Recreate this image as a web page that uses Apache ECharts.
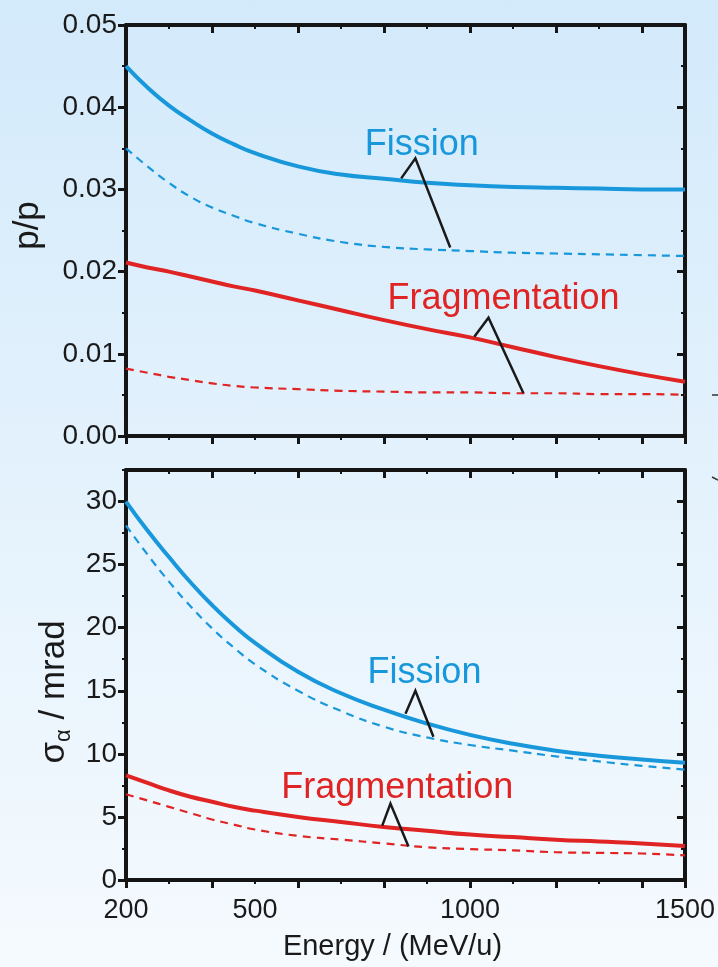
<!DOCTYPE html>
<html lang="en">
<head>
<meta charset="utf-8" />
<title>Momentum and angular spread vs energy</title>
<script src="https://cdn.jsdelivr.net/npm/echarts@6.0.0/dist/echarts.min.js"></script>
<style>
	html, body { margin: 0; padding: 0; }
	#main {
		width: 718px;
		height: 967px;
		background: linear-gradient(#d3eafb, #f5fafe);
	}
</style>
</head>
<body>
<div id="main"></div>
<script>
	var energy = [200, 250, 300, 350, 400, 450, 500, 600, 700, 800, 900, 1000, 1100, 1200, 1300, 1400, 1500];

	// upper panel: p/p
	var dpFission      = [0.0450, 0.0424, 0.0402, 0.0384, 0.0368, 0.0355, 0.0344, 0.0328, 0.0318, 0.0313, 0.0308, 0.0305, 0.0303, 0.0302, 0.0301, 0.0300, 0.0300];
	var dpFissionDash  = [0.0350, 0.0328, 0.0308, 0.0291, 0.0278, 0.0268, 0.0259, 0.0246, 0.0236, 0.0230, 0.0227, 0.0225, 0.0223, 0.0222, 0.0221, 0.0220, 0.0219];
	var dpFrag         = [0.0211, 0.0205, 0.0200, 0.0194, 0.0188, 0.0182, 0.0177, 0.0165, 0.0153, 0.0141, 0.0130, 0.0120, 0.0108, 0.0096, 0.0085, 0.0075, 0.0066];
	var dpFragDash     = [0.0082, 0.0077, 0.0072, 0.0068, 0.0064, 0.0061, 0.0059, 0.0057, 0.0055, 0.0054, 0.0053, 0.0053, 0.0052, 0.0052, 0.0051, 0.0051, 0.0050];

	// lower panel: sigma_alpha / mrad
	var angFission     = [30.0, 27.7, 25.6, 23.6, 21.8, 20.2, 18.8, 16.5, 14.8, 13.5, 12.4, 11.5, 10.8, 10.25, 9.85, 9.55, 9.3];
	var angFissionDash = [28.1, 25.8, 23.65, 21.7, 19.95, 18.45, 17.1, 15.0, 13.4, 12.15, 11.3, 10.7, 10.25, 9.8, 9.4, 9.05, 8.75];
	var angFrag        = [8.3, 7.7, 7.1, 6.6, 6.2, 5.8, 5.5, 5.0, 4.6, 4.2, 3.9, 3.6, 3.4, 3.2, 3.05, 2.9, 2.7];
	var angFragDash    = [6.8, 6.3, 5.8, 5.3, 4.8, 4.4, 4.0, 3.5, 3.2, 2.9, 2.6, 2.45, 2.35, 2.2, 2.15, 2.1, 1.95];

	var xLabelValues = [200, 500, 1000, 1500];

	// callout labels, in data coordinates of the panel of the given series
	var callouts = [
		{ series: 0, text: 'Fission', label: [888, 0.03543], apex: [873, 0.03378], ends: [[840, 0.03134], [954, 0.02293]] },
		{ series: 2, text: 'Fragmentation', label: [1078, 0.01665], apex: [1043, 0.01439], ends: [[1010, 0.01207], [1124, 0.00524]] },
		{ series: 4, text: 'Fission', label: [894, 16.39], apex: [873, 15.0], ends: [[850, 13.18], [915, 11.36]] },
		{ series: 6, text: 'Fragmentation', label: [831, 7.28], apex: [815, 6.06], ends: [[796, 4.31], [857, 2.65]] }
	];

	var AXIS = '#151515';
	var FONT = '"Liberation Sans", Arial, sans-serif';
	var BLUE = '#1898db';
	var RED = '#e02323';

	function pairs(ys) {
		return energy.map(function (e, i) { return [e, ys[i]]; });
	}

	function xAxesFor(grid, withLabels) {
		function ax(position, interval, isMajor) {
			return {
				gridIndex: grid, type: 'value', min: 200, max: 1500, interval: interval,
				position: position,
				splitLine: { show: false },
				axisLine: { show: isMajor, onZero: false, lineStyle: { color: AXIS, width: 4 } },
				axisTick: { inside: position === 'top', length: isMajor ? 8 : 4, lineStyle: { color: AXIS, width: isMajor ? 3 : 2 } },
				axisLabel: { show: false }
			};
		}
		var minorBottom = ax('bottom', 100, false);
		if (withLabels) {
			minorBottom.axisLabel = {
				show: true, showMinLabel: true, showMaxLabel: true,
				color: '#1a1a1a', fontSize: 27, fontFamily: FONT, margin: 17,
				formatter: function (v) { return xLabelValues.indexOf(v) >= 0 ? String(v) : ''; }
			};
			minorBottom.name = 'Energy / (MeV/u)';
			minorBottom.nameLocation = 'middle';
			minorBottom.nameGap = 52;
			minorBottom.nameTextStyle = { color: '#1a1a1a', fontSize: 29, fontFamily: FONT, padding: [0, 26, 0, 0] };
		}
		return [ax('bottom', 200, true), minorBottom, ax('top', 200, true), ax('top', 100, false)];
	}

	function yAxesFor(grid, max, interval, minor, showMax, fmt, name, nameGap, nameStyle) {
		function ax(position, step, isMajor) {
			return {
				gridIndex: grid, type: 'value', min: 0, max: max, interval: step,
				position: position,
				splitLine: { show: false },
				axisLine: { show: isMajor, onZero: false, lineStyle: { color: AXIS, width: 4 } },
				axisTick: { inside: position === 'right', length: isMajor ? 8 : 4, lineStyle: { color: AXIS, width: isMajor ? 3 : 2 } },
				axisLabel: { show: false }
			};
		}
		var main = ax('left', interval, true);
		main.axisLabel = {
			show: true, showMinLabel: true, showMaxLabel: showMax,
			color: '#1a1a1a', fontSize: 28, fontFamily: FONT, margin: 9,
			formatter: fmt
		};
		main.name = name;
		main.nameLocation = 'middle';
		main.nameGap = nameGap;
		main.nameTextStyle = nameStyle;
		return [main, ax('left', minor, false), ax('right', interval, true), ax('right', minor, false)];
	}

	function line(data, xi, yi, color, dashed) {
		return {
			type: 'line', xAxisIndex: xi, yAxisIndex: yi, data: pairs(data),
			smooth: true, symbol: 'none', silent: true,
			lineStyle: dashed ? { color: color, width: 2.2, type: [8, 6] } : { color: color, width: 4 }
		};
	}

	var chart = echarts.init(document.getElementById('main'), null, { renderer: 'canvas' });

	var option = {
		animation: false,
		backgroundColor: 'transparent',
		grid: [
			{ left: 126, right: 33, top: 25, height: 411 },
			{ left: 126, right: 33, top: 470, height: 410 }
		],
		xAxis: xAxesFor(0, false).concat(xAxesFor(1, true)),
		yAxis: yAxesFor(0, 0.05, 0.01, 0.005, true,
				function (v) { return v.toFixed(2); },
				'p/p', 80,
				{ color: '#1a1a1a', fontSize: 35, fontFamily: FONT, padding: [0, 0, 0, 10] })
			.concat(yAxesFor(1, 32.5, 5, 2.5, false,
				function (v) { return v % 5 === 0 ? String(v) : ''; },
				'{m|σ}{s|α}{m| / mrad}', 46,
				{
					color: '#1a1a1a', fontFamily: FONT, padding: [0, 34, 0, 0],
					rich: {
						m: { fontSize: 35, color: '#1a1a1a', fontFamily: FONT },
						s: { fontSize: 22, color: '#1a1a1a', fontFamily: FONT, padding: [20, 0, 0, 0] }
					}
				})),
		series: [
			line(dpFission, 0, 0, BLUE, false),
			line(dpFissionDash, 0, 0, BLUE, true),
			line(dpFrag, 0, 0, RED, false),
			line(dpFragDash, 0, 0, RED, true),
			line(angFission, 4, 4, BLUE, false),
			line(angFissionDash, 4, 4, BLUE, true),
			line(angFrag, 4, 4, RED, false),
			line(angFragDash, 4, 4, RED, true)
		]
	};
	chart.setOption(option);

	// callout texts and leader lines
	var graphics = [];
	callouts.forEach(function (c) {
		var toPx = function (p) { return chart.convertToPixel({ seriesIndex: c.series }, p); };
		var color = c.text === 'Fission' ? BLUE : RED;
		var lp = toPx(c.label);
		graphics.push({
			type: 'text', x: lp[0], y: lp[1], z: 100,
			style: { text: c.text, fill: color, fontSize: 36, fontFamily: FONT, align: 'center', verticalAlign: 'middle' }
		});
		graphics.push({
			type: 'polyline', z: 100,
			shape: { points: [toPx(c.ends[0]), toPx(c.apex), toPx(c.ends[1])] },
			style: { stroke: '#1a1a1a', lineWidth: 2.5, fill: null }
		});
	});
	// bits of a neighbouring figure cut off at the right edge
	graphics.push({ type: 'line', shape: { x1: 712, y1: 395, x2: 718, y2: 395 }, style: { stroke: '#333', lineWidth: 1.5 } });
	graphics.push({ type: 'line', shape: { x1: 712, y1: 477, x2: 718, y2: 480 }, style: { stroke: '#333', lineWidth: 1.5 } });
	chart.setOption({ graphic: graphics });
</script>
</body>
</html>
